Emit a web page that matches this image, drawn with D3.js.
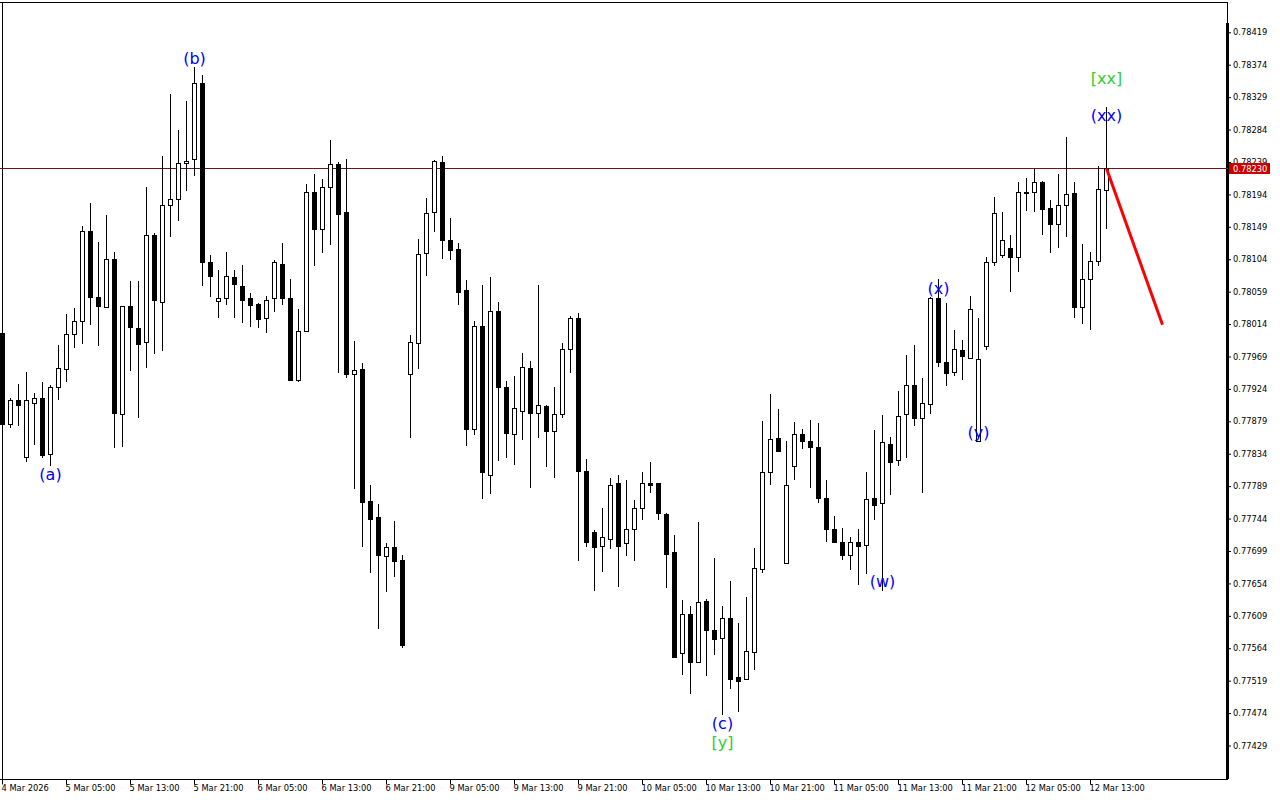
<!DOCTYPE html>
<html>
<head>
<meta charset="utf-8">
<script src="https://cdn.jsdelivr.net/npm/d3@7"></script>
<style>
  body { margin: 0; background: #fff; }
</style>
</head>
<body>
<div id="chart"></div>
<script>
// hourly bars, 4 Mar 21:00 -> 12 Mar 15:00
const opens = [
  0.78001,0.77875,0.77908,0.77829,0.77905,0.77911,0.77833,0.77926,0.77952,0.78000,
  0.78018,0.78143,0.78052,0.78038,0.78104,0.77889,0.78039,0.78008,0.77989,0.78137,
  0.78044,0.78179,0.78187,0.78237,0.78243,0.78348,0.78100,0.78046,0.78050,0.78079,
  0.78067,0.78050,0.78042,0.78023,0.78050,0.78098,0.78050,0.77937,0.78005,0.78198,
  0.78146,0.78204,0.78236,0.78169,0.77944,0.77952,0.77769,0.77746,0.77692,0.77704,
  0.77686,0.77944,0.77988,0.78112,0.78169,0.78239,0.78130,0.78118,0.78061,0.77869,
  0.78011,0.77804,0.78032,0.77926,0.77862,0.77894,0.77953,0.77890,0.77900,0.77866,
  0.77889,0.77980,0.78023,0.77810,0.77725,0.77706,0.77716,0.77793,0.77710,0.77730,
  0.77758,0.77794,0.77793,0.77751,0.77697,0.77557,0.77611,0.77545,0.77630,0.77589,
  0.77578,0.77606,0.77524,0.77522,0.77559,0.77674,0.77808,0.77856,0.77683,0.77817,
  0.77862,0.77852,0.77844,0.77773,0.77729,0.77712,0.77693,0.77711,0.77707,0.77772,
  0.77765,0.77848,0.77825,0.77889,0.77930,0.77883,0.77903,0.78050,0.77961,0.77948,
  0.77978,0.77967,0.77851,0.77984,0.78100,0.78110,0.78119,0.78107,0.78198,0.78197,
  0.78211,0.78175,0.78153,0.78179,0.78196,0.78038,0.78077,0.78101,0.78200
];
const highs = [
  0.78006,0.77912,0.77931,0.77947,0.77918,0.77934,0.77930,0.77985,0.78028,0.78036,
  0.78150,0.78182,0.78128,0.78165,0.78114,0.78039,0.78074,0.78074,0.78204,0.78141,
  0.78247,0.78333,0.78283,0.78324,0.78371,0.78360,0.78110,0.78089,0.78114,0.78089,
  0.78096,0.78057,0.78043,0.78053,0.78103,0.78126,0.78077,0.78035,0.78208,0.78222,
  0.78215,0.78269,0.78239,0.78243,0.77990,0.77960,0.77791,0.77764,0.77710,0.77741,
  0.77693,0.77999,0.78132,0.78189,0.78242,0.78247,0.78161,0.78126,0.78075,0.78018,
  0.78068,0.78080,0.78045,0.77935,0.77942,0.77974,0.77963,0.78068,0.77901,0.77927,
  0.77988,0.78025,0.78029,0.77826,0.77728,0.77759,0.77800,0.77804,0.77797,0.77770,
  0.77809,0.77822,0.77794,0.77752,0.77721,0.77631,0.77622,0.77739,0.77633,0.77689,
  0.77622,0.77657,0.77599,0.77635,0.77703,0.77879,0.77917,0.77896,0.77852,0.77878,
  0.77868,0.77881,0.77877,0.77798,0.77748,0.77731,0.77718,0.77730,0.77808,0.77867,
  0.77888,0.77857,0.77921,0.77971,0.77985,0.77939,0.78052,0.78077,0.78043,0.78006,
  0.77992,0.78053,0.78023,0.78107,0.78190,0.78170,0.78138,0.78211,0.78217,0.78229,
  0.78212,0.78186,0.78222,0.78273,0.78211,0.78125,0.78114,0.78234,0.78316
];
const lows = [
  0.77871,0.77870,0.77873,0.77822,0.77846,0.77828,0.77817,0.77908,0.77933,0.77981,
  0.77986,0.78013,0.77984,0.78037,0.77842,0.77844,0.77949,0.77883,0.77953,0.77972,
  0.77977,0.78135,0.78157,0.78199,0.78219,0.78067,0.78051,0.78023,0.78040,0.78023,
  0.78016,0.78010,0.78009,0.78001,0.78031,0.78041,0.77937,0.77934,0.78003,0.78094,
  0.78113,0.78124,0.77946,0.77939,0.77785,0.77705,0.77669,0.77591,0.77642,0.77663,
  0.77565,0.77856,0.77952,0.78081,0.78142,0.78105,0.78103,0.78041,0.77845,0.77860,
  0.77771,0.77778,0.77824,0.77828,0.77819,0.77853,0.77787,0.77856,0.77815,0.77801,
  0.77883,0.77946,0.77685,0.77705,0.77644,0.77670,0.77702,0.77649,0.77692,0.77685,
  0.77742,0.77780,0.77742,0.77647,0.77551,0.77527,0.77500,0.77543,0.77526,0.77554,
  0.77472,0.77508,0.77476,0.77521,0.77534,0.77669,0.77790,0.77837,0.77682,0.77798,
  0.77840,0.77787,0.77765,0.77711,0.77710,0.77686,0.77672,0.77652,0.77667,0.77742,
  0.77644,0.77777,0.77817,0.77828,0.77873,0.77780,0.77889,0.77955,0.77928,0.77942,
  0.77937,0.77966,0.77850,0.77978,0.78095,0.78106,0.78059,0.78086,0.78171,0.78169,
  0.78137,0.78113,0.78119,0.78135,0.78023,0.78014,0.78006,0.78095,0.78146
];
const closes = [
  0.77875,0.77908,0.77901,0.77908,0.77911,0.77832,0.77926,0.77953,0.78000,0.78018,
  0.78143,0.78052,0.78039,0.78104,0.77890,0.78039,0.78010,0.77987,0.78137,0.78048,
  0.78179,0.78188,0.78237,0.78241,0.78348,0.78100,0.78081,0.78050,0.78081,0.78069,
  0.78048,0.78041,0.78021,0.78048,0.78100,0.78050,0.77937,0.78005,0.78198,0.78146,
  0.78204,0.78236,0.78167,0.77944,0.77950,0.77767,0.77744,0.77693,0.77705,0.77685,
  0.77568,0.77989,0.78111,0.78168,0.78240,0.78130,0.78117,0.78059,0.77869,0.78011,
  0.77808,0.78032,0.77926,0.77863,0.77898,0.77955,0.77890,0.77901,0.77866,0.77889,
  0.77980,0.78023,0.77810,0.77711,0.77704,0.77718,0.77790,0.77706,0.77730,0.77758,
  0.77793,0.77790,0.77752,0.77695,0.77552,0.77612,0.77545,0.77628,0.77589,0.77577,
  0.77606,0.77522,0.77519,0.77560,0.77676,0.77808,0.77855,0.77838,0.77790,0.77862,
  0.77851,0.77844,0.77772,0.77729,0.77711,0.77693,0.77711,0.77706,0.77771,0.77763,
  0.77850,0.77823,0.77886,0.77930,0.77884,0.77904,0.78050,0.77962,0.77946,0.77979,
  0.77969,0.78035,0.77966,0.78100,0.78168,0.78131,0.78107,0.78197,0.78196,0.78211,
  0.78174,0.78153,0.78179,0.78195,0.78038,0.78077,0.78102,0.78201,0.78230
];

// time axis: bar index -> label
const xTickIdx = [0,8,16,24,32,40,48,56,64,72,80,88,96,104,112,120,128,136];
const xTickLabels = ["4 Mar 2026","5 Mar 05:00","5 Mar 13:00","5 Mar 21:00","6 Mar 05:00",
  "6 Mar 13:00","6 Mar 21:00","9 Mar 05:00","9 Mar 13:00","9 Mar 21:00","10 Mar 05:00",
  "10 Mar 13:00","10 Mar 21:00","11 Mar 05:00","11 Mar 13:00","11 Mar 21:00",
  "12 Mar 05:00","12 Mar 13:00"];

// price axis
const yTicks = [0.78419,0.78374,0.78329,0.78284,0.78239,0.78194,0.78149,0.78104,0.78059,
  0.78014,0.77969,0.77924,0.77879,0.77834,0.77789,0.77744,0.77699,0.77654,0.77609,
  0.77564,0.77519,0.77474,0.77429];
const lastPrice = 0.78230;

// wave labels
const waveText  = ["(a)","(b)","(c)","[y]","(w)","(x)","(y)","[xx]","(xx)"];
const waveIdx   = [6, 24, 90, 90, 110, 117, 122, 138, 138];
const wavePrice = [0.77805,0.78382,0.77460,0.77433,0.77656,0.78064,0.77863,0.78355,0.78303];
const waveColor = ["blue","blue","blue","green","blue","blue","blue","green","blue"];

// forecast line
const fcIdx = [138, 145];
const fcPrice = [0.78230, 0.78013];

// * SETUP
const W = 1280, H = 800;
const plotRight = 1228, plotBottom = 779;
const axisFont = "DejaVu Sans";

var svg = d3.select("#chart").append("svg")
  .attr("width", W).attr("height", H)
  .style("display", "block");

svg.append("rect").attr("width", W).attr("height", H).attr("fill", "#fff");

var x = d3.scaleLinear().domain([0, 138]).range([2.5, 1106.5]);
var y = d3.scaleLinear().domain([0.77429, 0.78419]).range([745.5, 32.3]);

// frame
var frame = svg.append("g").attr("stroke", "#000").attr("shape-rendering", "crispEdges");
frame.append("line").attr("x1", 0).attr("x2", plotRight).attr("y1", 2.5).attr("y2", 2.5);
frame.append("line").attr("x1", 2.5).attr("x2", 2.5).attr("y1", 2.5).attr("y2", plotBottom);
frame.append("line").attr("x1", plotRight - 0.5).attr("x2", plotRight - 0.5).attr("y1", 2.5).attr("y2", plotBottom);
frame.append("line").attr("x1", plotRight - 0.5).attr("x2", plotRight - 0.5).attr("y1", 23).attr("y2", plotBottom)
  .attr("stroke-width", 3);

// last price line
svg.append("line")
  .attr("x1", 0).attr("x2", plotRight)
  .attr("y1", Math.round(y(lastPrice)) + 0.5).attr("y2", Math.round(y(lastPrice)) + 0.5)
  .attr("stroke", "#6e1414").attr("stroke-width", 1);

// candles
var bars = d3.range(opens.length).map(function(i) {
  return {i: i, o: opens[i], h: highs[i], l: lows[i], c: closes[i]};
});
var candles = svg.append("g").attr("shape-rendering", "crispEdges");
candles.selectAll("line")
  .data(bars).enter().append("line")
  .attr("x1", function(d) { return x(d.i); })
  .attr("x2", function(d) { return x(d.i); })
  .attr("y1", function(d) { return y(d.h); })
  .attr("y2", function(d) { return y(d.l); })
  .attr("stroke", "#000");
candles.selectAll("rect")
  .data(bars).enter().append("rect")
  .attr("x", function(d) { return x(d.i) - 2; })
  .attr("width", 4)
  .attr("y", function(d) { return Math.round(y(Math.max(d.o, d.c))) + 0.5; })
  .attr("height", function(d) {
    var top = Math.round(y(Math.max(d.o, d.c))), bot = Math.round(y(Math.min(d.o, d.c)));
    return Math.max(bot - top, 1);
  })
  .attr("fill", function(d) { return d.c >= d.o ? "#fff" : "#000"; })
  .attr("stroke", "#000");

// forecast
svg.append("line")
  .attr("x1", x(fcIdx[0])).attr("y1", y(fcPrice[0]))
  .attr("x2", x(fcIdx[1])).attr("y2", y(fcPrice[1]))
  .attr("stroke", "#ff0000").attr("stroke-width", 3);

// wave labels
svg.append("g").selectAll("text")
  .data(waveText).enter().append("text")
  .attr("x", function(d, i) { return x(waveIdx[i]); })
  .attr("y", function(d, i) { return y(wavePrice[i]); })
  .attr("text-anchor", "middle")
  .attr("dominant-baseline", "central")
  .attr("font-family", "DejaVu Sans")
  .attr("font-size", 16)
  .attr("fill", function(d, i) { return waveColor[i] == "green" ? "#32cd32" : "#0000ff"; })
  .text(function(d) { return d; });

// x axis
var xAxis = d3.axisBottom(x)
  .tickValues(xTickIdx)
  .tickFormat(function(d, i) { return xTickLabels[i]; })
  .tickSize(5)
  .offset(0);
var XAXIS = svg.append("g")
  .attr("transform", "translate(0," + (plotBottom + 0.5) + ")")
  .call(xAxis);
XAXIS.select(".domain").remove();
XAXIS.attr("font-family", axisFont).attr("font-size", 8.3);
XAXIS.selectAll("text").attr("text-anchor", "start").attr("x", -1).attr("dy", "0.71em").attr("y", 6).attr("fill", "#000");
XAXIS.selectAll("line").attr("stroke", "#000");
svg.append("line").attr("x1", 0).attr("x2", plotRight).attr("y1", plotBottom + 0.5).attr("y2", plotBottom + 0.5)
  .attr("stroke", "#000");

// y axis
var yAxis = d3.axisRight(y)
  .tickValues(yTicks)
  .tickFormat(d3.format(".5f"))
  .tickSize(3)
  .tickPadding(2);
var YAXIS = svg.append("g")
  .attr("transform", "translate(" + plotRight + ",0)")
  .call(yAxis);
YAXIS.select(".domain").remove();
YAXIS.attr("font-family", axisFont).attr("font-size", 8.3);
YAXIS.selectAll("text").attr("fill", "#000");
YAXIS.selectAll("line").attr("stroke", "#000");

// last price tag
var tagY = y(lastPrice);
svg.append("rect")
  .attr("x", plotRight + 1).attr("y", Math.round(tagY) - 5)
  .attr("width", 41).attr("height", 11)
  .attr("fill", "#cc0000");
svg.append("text")
  .attr("x", plotRight + 5).attr("y", tagY + 1)
  .attr("dominant-baseline", "central")
  .attr("font-family", axisFont).attr("font-size", 8.3)
  .attr("fill", "#fff")
  .text(d3.format(".5f")(lastPrice));
</script>
</body>
</html>
